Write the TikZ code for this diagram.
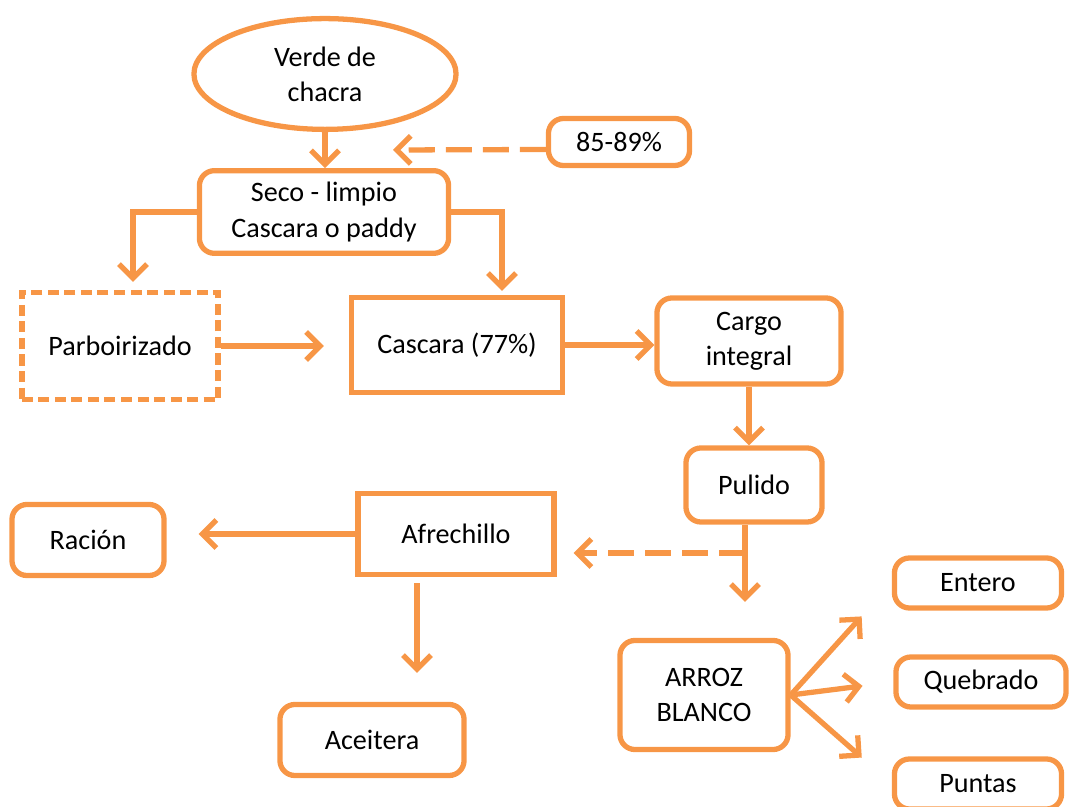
\documentclass[tikz,border=0pt]{standalone}
\usepackage{fontspec}
\setmainfont{Carlito}
\usepackage{tikz}
\usetikzlibrary{arrows.meta,positioning,shapes.geometric}
\definecolor{orng}{RGB}{247,150,70}

\begin{document}
\begin{tikzpicture}[
    x=0.01cm, y=-0.01cm,
    every node/.style={draw=orng, line width=1.5pt, text centered, align=center, font=\fontsize{8}{10}\selectfont},
    oval/.style={ellipse, minimum width=2.62cm, minimum height=1.04cm},
    rbox/.style={rounded corners=1.5mm},
    sbox/.style={rectangle},
    dbox/.style={dash pattern=on 1.1mm off 0.55mm},
    flow/.style={draw=orng, line width=1.5pt, -{Straight Barb[length=1.4mm,width=2.8mm]}},
    dashflow/.style={flow, dash pattern=on 2.6mm off 1.1mm}
]
\useasboundingbox (0,0) rectangle (1069,807);

\node[oval] (verde) at (325,74) {Verde de\\chacra};
\node[rbox, minimum width=1.41cm, minimum height=0.47cm] (pct) at (619,142) {85-89\%};
\node[rbox, minimum width=2.49cm, minimum height=0.76cm] (seco) at (324,212) {Seco - limpio\\Cascara o paddy};

\node[dbox, minimum width=1.96cm, minimum height=1.07cm] (parbo) at (120,346) {Parboirizado};
\node[sbox, minimum width=2.11cm, minimum height=0.95cm] (cascara) at (457,345) {Cascara (77\%)};
\node[rbox, minimum width=1.84cm, minimum height=0.86cm] (cargo) at (749,341) {Cargo\\integral};
\node[rbox, minimum width=1.36cm, minimum height=0.74cm] (pulido) at (754,485) {Pulido};

\node[sbox, minimum width=1.96cm, minimum height=0.81cm] (afrech) at (456,534) {Afrechillo};
\node[rbox, minimum width=1.52cm, minimum height=0.71cm] (racion) at (88,540) {Ración};
\node[rbox, minimum width=1.84cm, minimum height=0.71cm] (aceit) at (372,740) {Aceitera};

\node[rbox, minimum width=1.68cm, minimum height=1.09cm] (arroz) at (704,695) {ARROZ\\BLANCO};
\node[rbox, minimum width=1.67cm, minimum height=0.50cm] (entero) at (978,583) {Entero};
\node[rbox, minimum width=1.70cm, minimum height=0.50cm] (quebr) at (981,682) {Quebrado};
\node[rbox, minimum width=1.67cm, minimum height=0.50cm] (puntas) at (978,784) {Puntas};

\coordinate (pcttip) at (393,150);
\coordinate (branch) at (745,553);

% Connections
\draw[flow] (verde.south) -- (verde.south |- seco.north);
\draw[dashflow] ([yshift=-0.75mm]pct.west) -- (pcttip);
\draw[flow, shorten >=0.8mm] (seco.west) -| ([xshift=1.3mm]parbo.north);
\draw[flow, shorten >=0.4mm] (seco.east) -| ([xshift=4.5mm]cascara.north);
\draw[flow, shorten >=2.5mm] (parbo.east) -- (parbo.east -| cascara.west);
\draw[flow] (cascara.east) -- (cascara.east -| cargo.west);
\draw[flow] (cargo.south) -- (cargo.south |- pulido.north);
\draw[flow, shorten >=3.6mm] ([xshift=-0.9mm]pulido.south) -- ([xshift=-0.9mm]pulido.south |- arroz.north);
\draw[dashflow, shorten >=1.7mm] (branch) -- (branch -| afrech.east);
\draw[flow, shorten >=3.2mm] (afrech.west) -- (afrech.west -| racion.east);
\draw[flow, shorten <=0.6mm, shorten >=2.9mm] ([xshift=-3.9mm]afrech.south) -- ([xshift=-3.9mm]afrech.south |- aceit.north);
\draw[flow, shorten >=4.5mm] (arroz.east) -- (entero.west);
\draw[flow, shorten >=3.1mm] (arroz.east) -- (quebr.west);
\draw[flow, shorten >=4mm] (arroz.east) -- (puntas.west);

\end{tikzpicture}
\end{document}
